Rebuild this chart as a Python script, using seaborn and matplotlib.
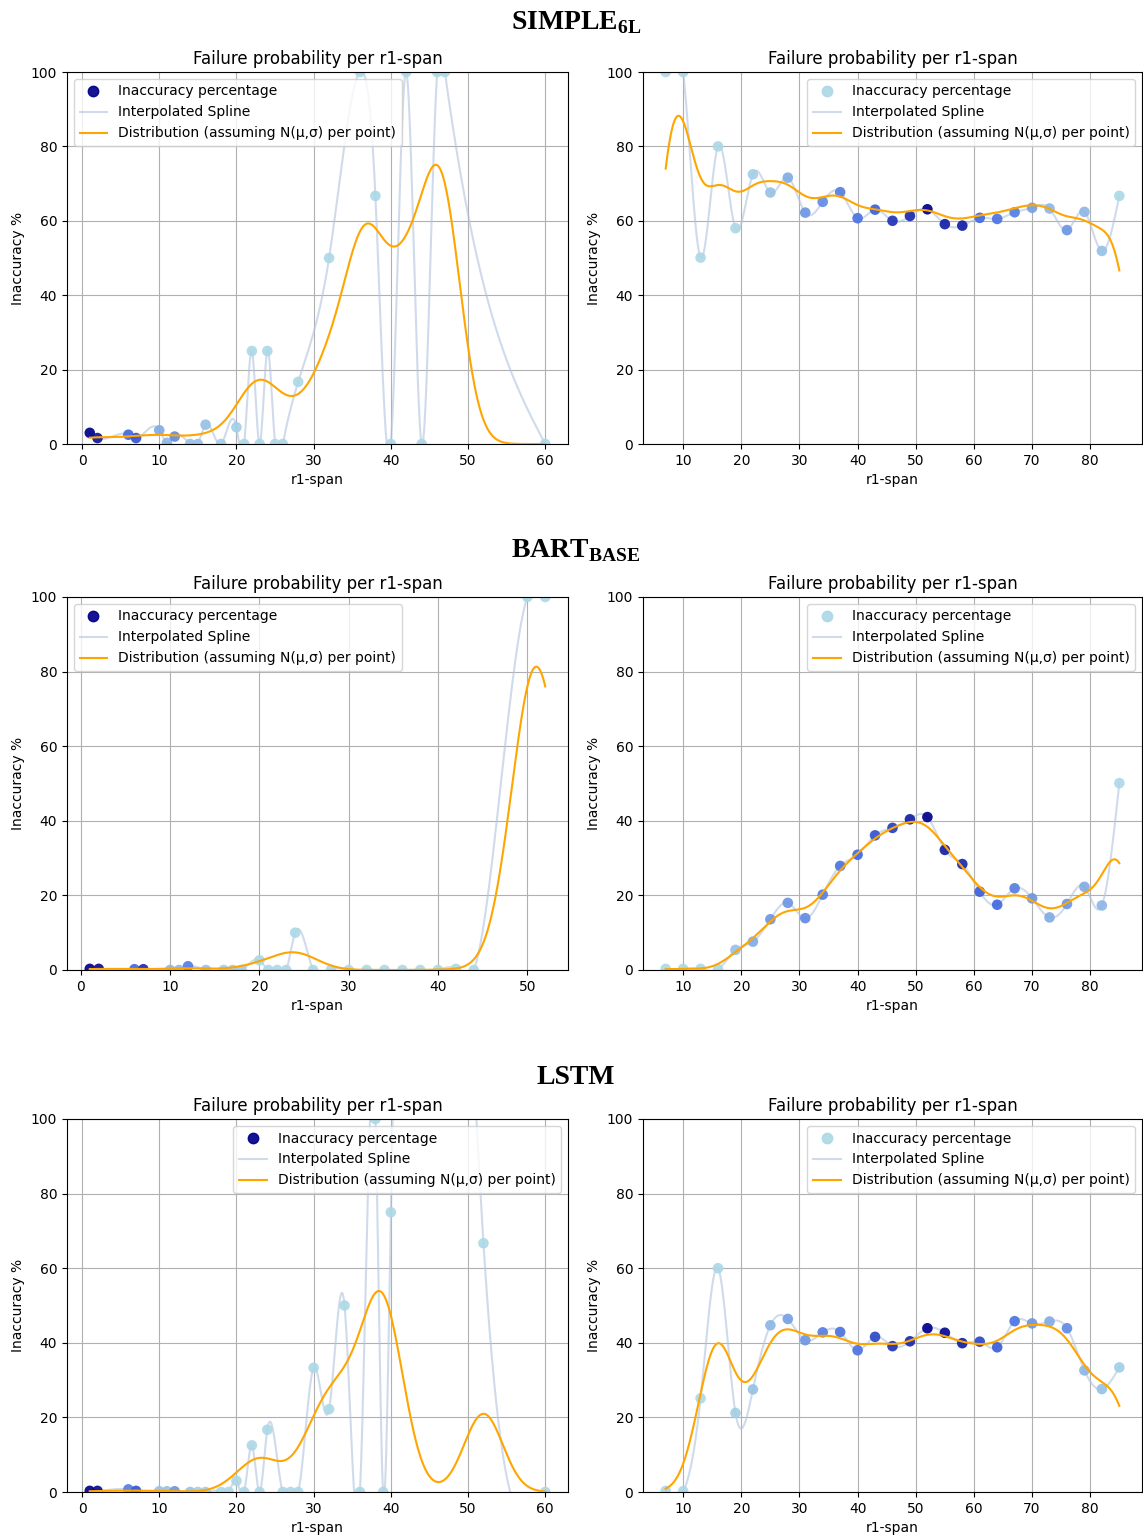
import numpy as np
import pandas as pd
import matplotlib
matplotlib.use("Agg")
import matplotlib.pyplot as plt
import seaborn as sns
from matplotlib.colors import LinearSegmentedColormap
from matplotlib.lines import Line2D

# ---------------- data ----------------
model_names = [r"SIMPLE$_{\mathbf{6L}}$", r"BART$_{\mathbf{BASE}}$", "LSTM"]

# SIMPLE_6L, left panel
simple_l_x = [1, 2, 6, 7, 10, 11, 12, 14, 15, 16, 18, 20, 21, 22, 23, 24, 25, 26, 28, 32, 36, 38, 40, 42, 44, 46, 47, 60]
simple_l_y = [3.0, 1.6, 2.5, 1.6, 3.7, 0.3, 2.0, 0.0, 0.0, 5.2, 0.0, 4.5, 0.0, 25.0, 0.0, 25.0, 0.0, 0.0, 16.7, 50.0, 100.0, 66.7, 0.0, 100.0, 0.0, 100.0, 100.0, 0.0]
simple_l_w = [1.0, 0.9, 0.5, 0.6, 0.2, 0.15, 0.35, 0.1, 0.1, 0.1, 0.05, 0.05, 0, 0, 0, 0, 0, 0, 0, 0, 0, 0, 0, 0, 0, 0, 0, 0]

# SIMPLE_6L, right panel
simple_r_x = [7, 10, 13, 16, 19, 22, 25, 28, 31, 34, 37, 40, 43, 46, 49, 52, 55, 58, 61, 64, 67, 70, 73, 76, 79, 82, 85]
simple_r_y = [100.0, 100.0, 50.1, 80.0, 58.0, 72.5, 67.6, 71.6, 62.2, 65.1, 67.7, 60.7, 63.0, 60.0, 61.3, 63.1, 59.1, 58.7, 60.8, 60.5, 62.3, 63.5, 63.3, 57.5, 62.4, 51.9, 66.7]
simple_r_w = [0, 0, 0, 0, 0, 0.05, 0.1, 0.2, 0.3, 0.35, 0.4, 0.45, 0.55, 0.75, 0.8, 1.0, 0.85, 0.85, 0.5, 0.45, 0.4, 0.25, 0.15, 0.3, 0.15, 0.1, 0]

# BART_BASE, left panel
bart_l_x = [1, 2, 6, 7, 10, 11, 12, 14, 16, 17, 18, 20, 21, 22, 23, 24, 26, 28, 30, 32, 34, 36, 38, 40, 42, 44, 50, 52]
bart_l_y = [0.3, 0.3, 0.2, 0.2, 0.0, 0.0, 1.0, 0.0, 0.0, 0.0, 0.0, 2.6, 0.0, 0.0, 0.0, 10.0, 0.0, 0.0, 0.0, 0.0, 0.0, 0.0, 0.0, 0.0, 0.3, 0.0, 100.0, 100.0]
bart_l_w = [1.0, 0.95, 0.5, 0.8, 0.15, 0.15, 0.4, 0.1, 0.05, 0.05, 0.05, 0, 0, 0, 0, 0, 0, 0, 0, 0, 0, 0, 0, 0, 0, 0, 0, 0]

# BART_BASE, right panel
bart_r_x = [7, 10, 13, 16, 19, 22, 25, 28, 31, 34, 37, 40, 43, 46, 49, 52, 55, 58, 61, 64, 67, 70, 73, 76, 79, 82, 85]
bart_r_y = [0.3, 0.3, 0.3, 0.2, 5.4, 7.6, 13.6, 18.0, 13.9, 20.2, 27.9, 30.9, 36.1, 38.1, 40.4, 41.0, 32.2, 28.4, 21.0, 17.5, 21.9, 19.2, 14.1, 17.7, 22.3, 17.3, 50.1]
bart_r_w = [0, 0, 0, 0, 0.1, 0.2, 0.3, 0.3, 0.35, 0.4, 0.45, 0.5, 0.6, 0.7, 0.85, 1.0, 0.85, 0.8, 0.55, 0.5, 0.4, 0.3, 0.2, 0.3, 0.2, 0.15, 0]

# LSTM, left panel
lstm_l_x = [1, 2, 6, 7, 10, 11, 12, 14, 15, 16, 18, 19, 20, 21, 22, 23, 24, 26, 27, 28, 30, 32, 34, 36, 38, 39, 40, 52, 60]
lstm_l_y = [0.3, 0.3, 0.7, 0.3, 0.2, 0.2, 0.2, 0.0, 0.0, 0.0, 0.0, 0.0, 3.0, 0.0, 12.5, 0.0, 16.7, 0.0, 0.0, 0.0, 33.3, 22.2, 50.0, 0.0, 100.0, 0.0, 75.0, 66.7, 0.0]
lstm_l_w = [1.0, 0.95, 0.4, 0.6, 0.1, 0.1, 0.3, 0.1, 0.05, 0.05, 0, 0, 0, 0, 0, 0, 0, 0, 0, 0, 0, 0, 0, 0, 0, 0, 0, 0, 0]

# LSTM, right panel
lstm_r_x = [7, 10, 13, 16, 19, 22, 25, 28, 31, 34, 37, 40, 43, 46, 49, 52, 55, 58, 61, 64, 67, 70, 73, 76, 79, 82, 85]
lstm_r_y = [0.3, 0.2, 25.1, 60.0, 21.2, 27.5, 44.7, 46.4, 40.7, 42.8, 42.9, 38.0, 41.6, 39.1, 40.4, 43.9, 42.7, 39.9, 40.3, 38.8, 45.8, 45.2, 45.7, 43.9, 32.6, 27.6, 33.4]
lstm_r_w = [0, 0, 0, 0, 0.05, 0.1, 0.15, 0.25, 0.3, 0.4, 0.45, 0.45, 0.65, 0.75, 0.8, 1.0, 0.95, 0.85, 0.65, 0.55, 0.45, 0.3, 0.2, 0.35, 0.15, 0.1, 0.05]

# per-panel kernel settings for the N(mu, sigma) distribution curve
dist_sigma = 2.5
dist_step = [[2.13, 3.06], [2.76, 3.0], [1.97, 2.97]]

panels = [
    [(simple_l_x, simple_l_y, simple_l_w, "upper left"), (simple_r_x, simple_r_y, simple_r_w, "upper right")],
    [(bart_l_x, bart_l_y, bart_l_w, "upper left"), (bart_r_x, bart_r_y, bart_r_w, "upper right")],
    [(lstm_l_x, lstm_l_y, lstm_l_w, "upper right"), (lstm_r_x, lstm_r_y, lstm_r_w, "upper right")],
]


def natural_spline(x, y, xs):
    x = np.asarray(x, float)
    y = np.asarray(y, float)
    n = len(x)
    h = np.diff(x)
    A = np.zeros((n, n))
    b = np.zeros(n)
    A[0, 0] = 1.0
    A[-1, -1] = 1.0
    for i in range(1, n - 1):
        A[i, i - 1] = h[i - 1]
        A[i, i] = 2 * (h[i - 1] + h[i])
        A[i, i + 1] = h[i]
        b[i] = 6 * ((y[i + 1] - y[i]) / h[i] - (y[i] - y[i - 1]) / h[i - 1])
    M = np.linalg.solve(A, b)
    idx = np.clip(np.searchsorted(x, xs) - 1, 0, n - 2)
    x0, x1 = x[idx], x[idx + 1]
    hh = x1 - x0
    return (M[idx] * (x1 - xs) ** 3 / (6 * hh) + M[idx + 1] * (xs - x0) ** 3 / (6 * hh)
            + (y[idx] / hh - M[idx] * hh / 6) * (x1 - xs)
            + (y[idx + 1] / hh - M[idx + 1] * hh / 6) * (xs - x0))


def gaussian_mix(x, y, xs, sigma, step):
    x = np.asarray(x, float)[None, :]
    y = np.asarray(y, float)[None, :]
    g = np.exp(-(xs[:, None] - x) ** 2 / (2 * sigma ** 2)) / (sigma * np.sqrt(2 * np.pi))
    return step * (g * y).sum(axis=1)


# ---------------- figure ----------------
W, H = 1143, 1538
plt.rcParams["mathtext.fontset"] = "custom"
plt.rcParams["mathtext.rm"] = "Liberation Serif"
plt.rcParams["mathtext.bf"] = "Liberation Serif:bold"
fig = plt.figure(figsize=(W / 100, H / 100), dpi=100)

cmap = LinearSegmentedColormap.from_list("cnt", ["lightblue", "royalblue", "darkblue"])
spline_color = "lightsteelblue"

col_x = [67, 643]
col_w = [501, 499]
row_top = [72, 597, 1119]
row_h = [372, 373, 373]
head_y = [23, 551, 1077]

for r in range(3):
    fig.text(576 / W, 1 - head_y[r] / H, model_names[r], ha="center", va="center",
             fontsize=20, fontweight="bold", family="Liberation Serif")
    for c in range(2):
        xv, yv, wv, loc = panels[r][c]
        ax = fig.add_axes([col_x[c] / W, 1 - (row_top[r] + row_h[r]) / H, col_w[c] / W, row_h[r] / H])
        xs = np.linspace(min(xv), max(xv), 800)
        spl = pd.DataFrame({"x": xs, "y": natural_spline(xv, yv, xs)})
        dist = pd.DataFrame({"x": xs, "y": gaussian_mix(xv, yv, xs, dist_sigma, dist_step[r][c])})
        pts = pd.DataFrame({"x": xv, "y": yv, "w": wv})

        sns.lineplot(data=spl, x="x", y="y", ax=ax, color=spline_color, alpha=0.6,
                     linewidth=1.5, sort=False, estimator=None, zorder=1)
        sns.scatterplot(data=pts, x="x", y="y", hue="w", palette=cmap, hue_norm=(0, 1),
                        ax=ax, s=58, alpha=0.92, edgecolor="none", legend=False, zorder=2)
        sns.lineplot(data=dist, x="x", y="y", ax=ax, color="orange", linewidth=1.5,
                     sort=False, estimator=None, zorder=3)

        ax.set_ylim(0, 100)
        ax.margins(x=0.05)
        ax.grid(True, color="#b0b0b0", linewidth=0.8)
        ax.set_axisbelow(True)
        ax.set_title("Failure probability per r1-span", fontsize=12)
        ax.set_xlabel("r1-span", fontsize=10)
        ax.set_ylabel("Inaccuracy %", fontsize=10)

        handles = [
            Line2D([], [], marker="o", linestyle="", color=cmap(wv[0]), markersize=7.5, alpha=0.92),
            Line2D([], [], color=spline_color, alpha=0.6, linewidth=1.5),
            Line2D([], [], color="orange", linewidth=1.5),
        ]
        ax.legend(handles, ["Inaccuracy percentage", "Interpolated Spline",
                            "Distribution (assuming N(μ,σ) per point)"], loc=loc, fontsize=10)

fig.savefig("out.png", dpi=100)
